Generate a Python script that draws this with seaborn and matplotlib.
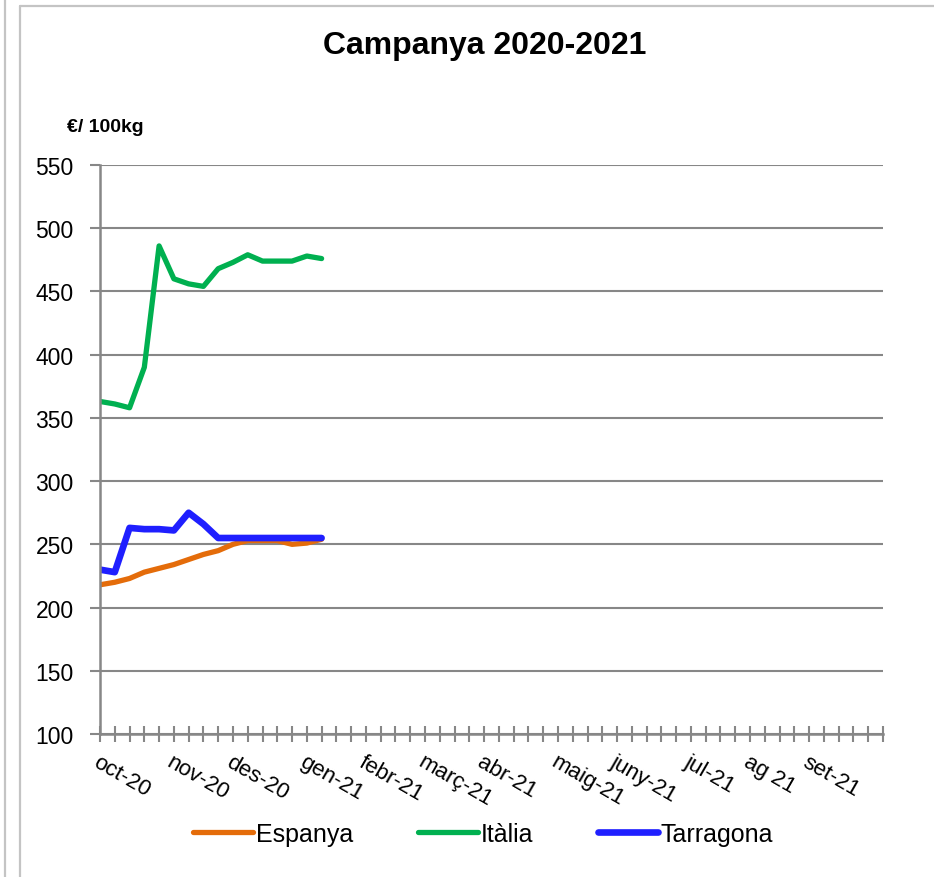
import numpy as np
import pandas as pd
import matplotlib
matplotlib.use('Agg')
import matplotlib.pyplot as plt
from matplotlib.lines import Line2D
import seaborn as sns

# Weekly prices, €/100kg (campaign starts in October)
weeks = list(range(16))
espanya = [218, 220, 223, 228, 231, 234, 238, 242, 245, 250, 253, 253, 253, 250, 251, 254]
italia = [363, 361, 358, 390, 486, 460, 456, 454, 468, 473, 479, 474, 474, 474, 478, 476]
tarragona = [230, 228, 263, 262, 262, 261, 275, 266, 255, 255, 255, 255, 255, 255, 255, 255]

n_slots = 53
month_pos = [0, 5, 9, 14, 18, 22, 26, 31, 35, 40, 44, 48]
month_labels = ['oct-20', 'nov-20', 'des-20', 'gen-21', 'febr-21', 'març-21',
                'abr-21', 'maig-21', 'juny-21', 'jul-21', 'ag 21', 'set-21']
y_ticks = [100, 150, 200, 250, 300, 350, 400, 450, 500, 550]

series_names = ['Espanya', 'Itàlia', 'Tarragona']
colors = {'Espanya': '#E46C0A', 'Itàlia': '#00B050', 'Tarragona': '#1F1FFF'}
widths = {'Espanya': 3.8, 'Itàlia': 3.8, 'Tarragona': 4.8}

df = pd.DataFrame({
    'week': weeks * 3,
    'price': espanya + italia + tarragona,
    'serie': [s for s in series_names for _ in weeks],
})

sns.set_style('white')
plt.rcParams['font.family'] = ['Liberation Sans', 'DejaVu Sans']
plt.rcParams['text.color'] = 'black'
plt.rcParams['xtick.color'] = 'black'
plt.rcParams['ytick.color'] = 'black'

fig = plt.figure(figsize=(9.34, 8.78), dpi=100)
W, H = 934, 878
ax = fig.add_axes([100 / W, 1 - 735 / H, 783 / W, 569 / H])

grid_c = '#878787'
for v in y_ticks:
    ax.axhline(v, color=grid_c, linewidth=1.5, zorder=0)

sns.lineplot(data=df, x='week', y='price', hue='serie', palette=colors,
             hue_order=series_names, ax=ax, legend=False, sort=False)
for line, name in zip(ax.get_lines()[-3:], series_names):
    line.set_linewidth(widths[name])
    line.set_solid_capstyle('round')
    line.set_solid_joinstyle('round')

ax.set_xlim(0, n_slots)
ax.set_ylim(100, 550)
ax.set_yticks(y_ticks)
ax.set_xticks(range(n_slots + 1))
labels = [''] * (n_slots + 1)
for p, lab in zip(month_pos, month_labels):
    labels[p] = lab
ax.set_xticklabels(labels, rotation=-30, ha='left', va='top',
                   rotation_mode='anchor', fontsize=16)
ax.tick_params(axis='x', bottom=True, direction='inout', length=12, width=1.5,
               color=grid_c, labelcolor='black', pad=6)
ax.tick_params(axis='y', left=True, direction='out', length=7, width=1.5,
               color=grid_c, labelcolor='black', labelsize=16.5, pad=12)
ax.set_xlabel('')
ax.set_ylabel('')
for s in ['top', 'right']:
    ax.spines[s].set_visible(False)
for s in ['left', 'bottom']:
    ax.spines[s].set_color(grid_c)
    ax.spines[s].set_linewidth(1.8)

fig.text(485 / W, 1 - 46 / H, 'Campanya 2020-2021', ha='center', va='center',
         fontsize=23, fontweight='bold', color='black')
fig.text(67 / W, 1 - 127 / H, '€/ 100kg', ha='left', va='center',
         fontsize=14, fontweight='bold', color='black')

handles = [Line2D([], [], color=colors[n], linewidth=widths[n], solid_capstyle='round')
           for n in series_names]
leg = fig.legend(handles, series_names, loc='center', bbox_to_anchor=(483 / W, 1 - 835 / H),
                 ncol=3, frameon=False, fontsize=18, handlelength=2.4,
                 handletextpad=0.1, columnspacing=2.6)
for t in leg.get_texts():
    t.set_color('black')

# outer frame lines
frame_c = '#C4C4C4'
fig.add_artist(Line2D([5 / W, 5 / W], [0, 1], color=frame_c, linewidth=1.6))
fig.add_artist(Line2D([20 / W, 20 / W], [0, 1 - 7 / H], color=frame_c, linewidth=1.6))
fig.add_artist(Line2D([20 / W, 1], [1 - 7 / H, 1 - 7 / H], color=frame_c, linewidth=1.6))

fig.savefig('out.png', dpi=100)
